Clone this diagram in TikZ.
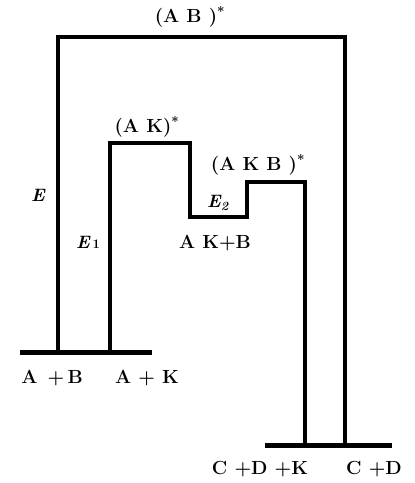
\documentclass[tikz,border=0pt]{standalone}
\usetikzlibrary{positioning}
\begin{document}
\begin{tikzpicture}[
  x=1pt, y=-1pt,
  level/.style={line width=5pt},
  route/.style={line width=4.5pt, line join=miter},
  lbl/.style={font=\bfseries\fontsize{19}{19}\selectfont, inner sep=0pt},
  elbl/.style={font=\bfseries\itshape\fontsize{18}{18}\selectfont, inner sep=0pt},
]
\useasboundingbox (0,0) rectangle (415,483);
% Energieniveaus
\coordinate (reacL) at (20,352);
\coordinate (reacR) at (152,352);
\coordinate (prodL) at (265,445);
\coordinate (prodR) at (392,445);
% Weg ohne Katalysator
\coordinate (ab1) at (58,352);
\coordinate (ab2) at (58,37);
\coordinate (ab3) at (345,37);
\coordinate (ab4) at (345,445);
% Weg mit Katalysator
\coordinate (ak1) at (110,352);
\coordinate (ak2) at (110,143);
\coordinate (ak3) at (190,143);
\coordinate (mid1) at (190,217);
\coordinate (mid2) at (247,217);
\coordinate (akb1) at (247,182);
\coordinate (akb2) at (305,182);
\coordinate (akb3) at (305,445);
\draw[level] (reacL) -- (reacR);
\draw[level] (prodL) -- (prodR);
\draw[route] (ab1) -- (ab2) -- (ab3) -- (ab4);
\draw[route] (ak1) -- (ak2) -- (ak3) -- (mid1) -- (mid2) -- (akb1) -- (akb2) -- (akb3);
% Beschriftungen
\node[lbl] (tAB)  at (190,17)  {(A B )\textsuperscript{*}};
\node[lbl] (tAK)  at (147,127) {(A K)\textsuperscript{*}};
\node[lbl] (tAKB) at (258,165) {(A K B )\textsuperscript{*}};
\node[elbl] (tE)  at (38,195)  {E};
\node[elbl] (tE1) at (88,242)  {E\,\textup{\fontsize{13}{13}\selectfont 1}};
\node[elbl] (tE2) at (218,203) {E\textsubscript{2}};
\node[lbl] (tAKB0) at (215,243) {A K+B};
\node[lbl] (tApB) at (52,378)  {A \,+\,B};
\node[lbl] (tApK) at (147,378) {A + K};
\node[lbl] (tCDK) at (260,469) {C +D +K};
\node[lbl] (tCD)  at (374,469) {C +D};
\end{tikzpicture}
\end{document}
